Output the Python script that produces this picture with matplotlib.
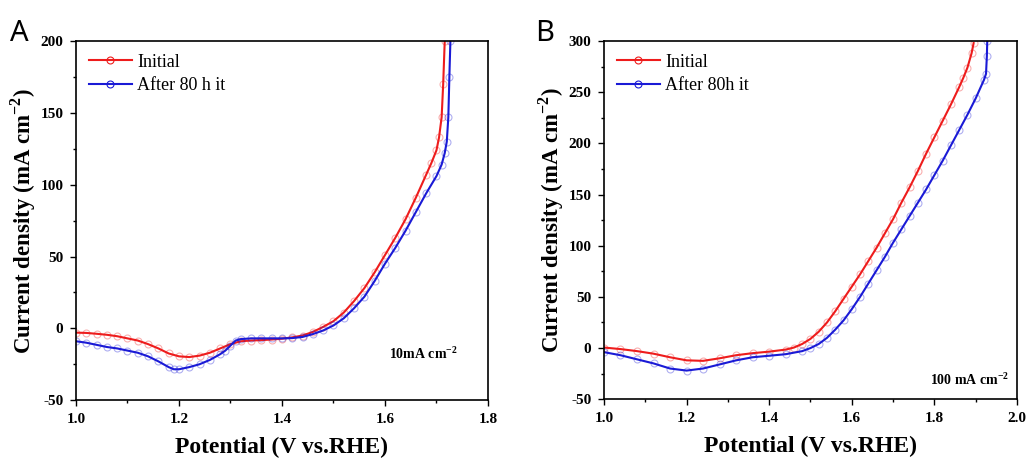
import matplotlib
matplotlib.use("Agg")
import matplotlib.pyplot as plt
from matplotlib.ticker import MultipleLocator

# Panel A data (potential in V vs RHE, current density in mA cm-2)
a_init_x = [1.00, 1.02, 1.04, 1.06, 1.08, 1.10, 1.12, 1.14, 1.16, 1.18, 1.20, 1.22,
            1.24, 1.26, 1.28, 1.30, 1.32, 1.34, 1.36, 1.38, 1.40, 1.42, 1.44, 1.46,
            1.48, 1.50, 1.52, 1.54, 1.56, 1.58, 1.60, 1.62, 1.64, 1.66, 1.68, 1.69,
            1.70, 1.705, 1.71, 1.713, 1.716]
a_init_y = [-3, -3.2, -3.8, -4.5, -5.5, -7, -8.5, -11, -14, -17.5, -19.5, -20,
            -19, -17, -14, -11, -9, -8.5, -8.2, -7.8, -7.2, -6.3, -5, -2.5,
            1, 5, 11, 19, 28, 39, 51, 63, 76, 91, 107, 115,
            124, 133, 147, 170, 200]
a_after_x = [1.00, 1.02, 1.04, 1.06, 1.08, 1.10, 1.12, 1.14, 1.16, 1.18, 1.19, 1.20,
             1.22, 1.24, 1.26, 1.28, 1.29, 1.30, 1.31, 1.32, 1.34, 1.36, 1.38, 1.40,
             1.42, 1.44, 1.46, 1.48, 1.50, 1.52, 1.54, 1.56, 1.58, 1.60, 1.62, 1.64,
             1.66, 1.68, 1.70, 1.71, 1.716, 1.72, 1.723, 1.725, 1.727]
a_after_y = [-9, -10, -11.5, -13, -14, -15.5, -17, -19.5, -23, -27, -28.5, -28.5,
             -27, -25, -22, -18, -15.5, -12, -8.5, -7.5, -7, -7, -7, -7,
             -6.8, -6, -4, -1.5, 2, 7, 14, 22, 33, 45, 56, 68,
             81, 94, 106, 114, 122, 130, 147, 175, 200]

# Panel B data
b_init_x = [1.00, 1.04, 1.08, 1.12, 1.16, 1.20, 1.24, 1.28, 1.32, 1.36, 1.40, 1.44,
            1.46, 1.48, 1.50, 1.52, 1.54, 1.56, 1.58, 1.60, 1.62, 1.64, 1.66, 1.68,
            1.70, 1.72, 1.74, 1.76, 1.78, 1.80, 1.82, 1.84, 1.86, 1.87, 1.88, 1.89,
            1.895]
b_init_y = [0.5, -1, -3, -5.5, -9, -12, -12.5, -10, -7, -5, -3.5, -1.5,
            0.5, 4, 9, 16, 25, 36, 48, 60, 72, 85, 98, 112,
            126, 142, 157, 173, 190, 206, 222, 238, 255, 264, 274, 288,
            298]
b_after_x = [1.00, 1.04, 1.08, 1.12, 1.16, 1.20, 1.24, 1.28, 1.32, 1.36, 1.40, 1.44,
             1.48, 1.50, 1.52, 1.54, 1.56, 1.58, 1.60, 1.62, 1.64, 1.66, 1.68, 1.70,
             1.72, 1.74, 1.76, 1.78, 1.80, 1.82, 1.84, 1.86, 1.88, 1.90, 1.92, 1.925,
             1.927, 1.928]
b_after_y = [-4, -7, -11, -15, -20, -22, -20, -16, -12, -9, -7.5, -6,
             -3, 0, 4, 10, 18, 27, 38, 50, 63, 76, 89, 103,
             116, 129, 142, 155, 169, 183, 198, 213, 228, 244, 262, 268,
             285, 300]

plt.rcParams["font.family"] = ["Liberation Serif", "DejaVu Serif"]
plt.rcParams["axes.unicode_minus"] = False
plt.rcParams["mathtext.fontset"] = "custom"
plt.rcParams["mathtext.rm"] = "Liberation Serif"
plt.rcParams["mathtext.bf"] = "Liberation Serif:bold"

fig = plt.figure(figsize=(10.28, 4.61), dpi=100)
ax_a = fig.add_axes([0.0739, 0.132, 0.4008, 0.779])
ax_b = fig.add_axes([0.5875, 0.134, 0.4018, 0.777])

red = "#ee1c1c"
blue = "#1a1ad6"


def draw(ax, x1, y1, x2, y2, lab2):
    for x, y, c, lab in [(x1, y1, red, "Initial"), (x2, y2, blue, lab2)]:
        ax.plot(x, y, linestyle="none", marker="o", ms=5, mfc="none",
                mec=c, mew=0.8, alpha=0.35)
        ax.plot(x, y, color=c, lw=1.5)
        ax.plot([], [], color=c, lw=1.5, marker="o", ms=5, mfc="none",
                mec=c, mew=0.8, label=lab)
    ax.legend(loc="upper left", frameon=False, fontsize=13,
              handlelength=2.4, handletextpad=0.3, borderaxespad=0.3,
              labelspacing=0.35)
    ax.tick_params(which="both", direction="out", width=1.0)
    ax.tick_params(which="major", length=4, labelsize=11, pad=5)
    ax.tick_params(which="minor", length=2.5)
    for sp in ax.spines.values():
        sp.set_linewidth(1.2)
    ax.set_xlabel("Potential (V vs.RHE)", fontsize=17, fontweight="bold", labelpad=8)
    ax.set_ylabel("Current density (mA cm$^{\\mathbf{-2}}$)", fontsize=16.5,
                  fontweight="bold", labelpad=2)
    ax.yaxis.set_minor_locator(MultipleLocator(25))
    ax.yaxis.set_major_locator(MultipleLocator(50))
    ax.xaxis.set_major_locator(MultipleLocator(0.2))
    ax.xaxis.set_minor_locator(MultipleLocator(0.1))


draw(ax_a, a_init_x, a_init_y, a_after_x, a_after_y, "After 80 h it")
ax_a.set_xlim(1.0, 1.8)
ax_a.set_ylim(-50, 200)
ax_a.text(0.76, 0.115, "10mA cm$^{\\mathbf{-2}}$", transform=ax_a.transAxes,
          fontsize=10, fontweight="bold")

draw(ax_b, b_init_x, b_init_y, b_after_x, b_after_y, "After 80h it")
ax_b.set_xlim(1.0, 2.0)
ax_b.set_ylim(-50, 300)
ax_b.text(0.79, 0.04, "100 mA cm$^{\\mathbf{-2}}$", transform=ax_b.transAxes,
          fontsize=10, fontweight="bold")

for ax in (ax_a, ax_b):
    for lbl in ax.get_xticklabels() + ax.get_yticklabels():
        lbl.set_fontweight("bold")

fig.text(0.010, 0.912, "A", fontsize=21, family="Noto Sans")
fig.text(0.521, 0.912, "B", fontsize=21, family="Noto Sans")

fig.savefig("out.png", dpi=100)
